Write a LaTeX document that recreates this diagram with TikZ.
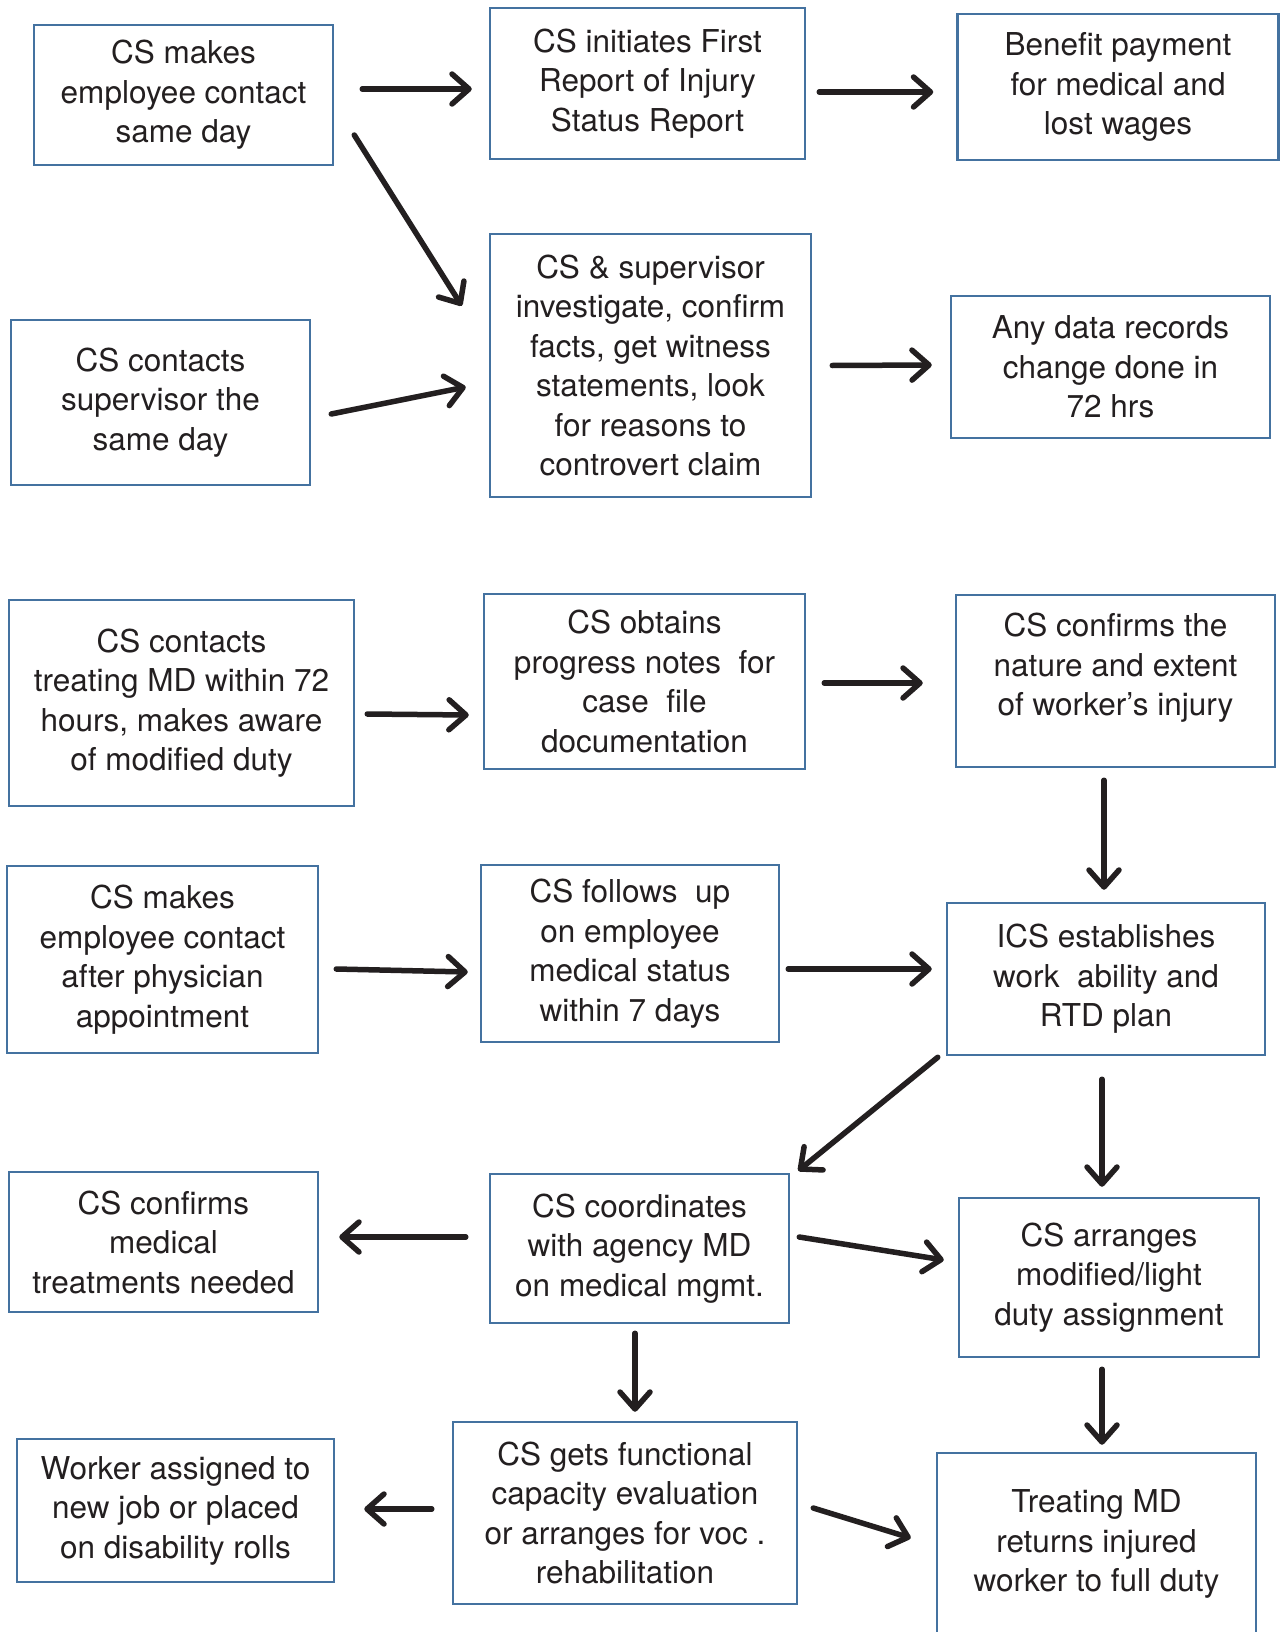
\documentclass[tikz,border=0pt]{standalone}
\usepackage{fontspec}
\setmainfont{TeX Gyre Heros}
\usetikzlibrary{arrows.meta,calc}
\definecolor{boxblue}{RGB}{68,114,160}
\definecolor{ink}{RGB}{35,31,32}
\begin{document}
\begin{tikzpicture}[x=1pt,y=-1pt,
  box/.style={draw=boxblue, line width=2.5pt, align=center, text=ink, inner sep=0pt,
    font=\fontsize{31.5}{39.5}\selectfont},
  arr/.style={draw=ink, line width=5.5pt, line cap=round,
    -{Straight Barb[length=17pt,width=30pt,line cap=round,line join=round]}}]
  \clip (0,0) rectangle (1281,1632);
  \fill[white] (0,0) rectangle (1281,1632);
  % first block
  \node[box, minimum width=299, minimum height=140] (a1) at (183.5,95) {CS makes\\employee contact\\same day};
  \node[box, minimum width=315, minimum height=151] (a2) at (647.5,83.5) {CS initiates First\\Report of Injury\\Status Report};
  \node[box, minimum width=321, minimum height=146] (a3) at (1118,87) {Benefit payment\\for medical and\\lost wages};
  \node[box, minimum width=299, minimum height=165] (b1) at (160.5,402.5) {CS contacts\\supervisor the\\same day};
  \node[box, minimum width=321, minimum height=263] (b2) at (650.5,365.5) {CS \& supervisor\\investigate, confirm\\facts, get witness\\statements, look\\for reasons to\\controvert claim};
  \node[box, minimum width=319, minimum height=142] (b3) at (1110.5,367) {Any data records\\change done in\\72 hrs};
  \draw[arr] ($(a1.east)+(28,-6)$) -- ($(a2.west)+(-17,5.5)$);
  \draw[arr] ($(a2.east)+(13,8.5)$) -- ($(a3.west)+(-23,5)$);
  \draw[arr] ($(a1.east)+(20,40)$) -- ($(b2.north west)+(-27,73)$);
  \draw[arr] ($(b1.east)+(20,11.5)$) -- ($(b2.west)+(-23,21.5)$);
  \draw[arr] ($(b2.east)+(20,0)$) -- ($(b3.west)+(-18,-2)$);
  % second block
  \node[box, minimum width=345, minimum height=206] (c1) at (181.5,703) {CS contacts\\treating MD within 72\\hours, makes aware\\of modified duty};
  \node[box, minimum width=321, minimum height=175] (c2) at (644.5,681.5) {CS obtains\\progress notes\ \ for\\case\ \ file\\documentation};
  \node[box, minimum width=319, minimum height=172] (c3) at (1115.5,681) {CS confirms the\\nature and extent\\of worker’s injury\\[-6pt]\mbox{}};
  \node[box, minimum width=311, minimum height=187] (d1) at (162.5,959.5) {CS makes\\employee contact\\after physician\\appointment};
  \node[box, minimum width=298, minimum height=177] (d2) at (630,953.5) {CS follows\ \ up\\on employee\\medical status\\within 7 days};
  \node[box, minimum width=318, minimum height=152] (d3) at (1106,979) {ICS establishes\\work\ \ ability and\\RTD plan};
  \node[box, minimum width=309, minimum height=140] (e1) at (163.5,1242) {CS confirms\\medical\\treatments needed};
  \node[box, minimum width=299, minimum height=149] (e2) at (639.5,1248.5) {CS coordinates\\with agency MD\\on medical mgmt.};
  \node[box, minimum width=300, minimum height=159] (e3) at (1109,1277.5) {CS arranges\\modified/light\\duty assignment};
  \node[box, minimum width=317, minimum height=143] (f1) at (175.5,1510.5) {Worker assigned to\\new job or placed\\on disability rolls};
  \node[box, minimum width=344, minimum height=182] (f2) at (625,1513) {CS gets functional\\capacity evaluation\\or arranges for voc .\\rehabilitation};
  \node[box, minimum width=319, minimum height=182] (f3) at (1096.5,1544) {Treating MD\\returns injured\\worker to full duty};
  \draw[arr] ($(c1.east)+(12,11)$) -- ($(c2.west)+(-14,33.5)$);
  \draw[arr] ($(c2.east)+(18,1.5)$) -- ($(c3.west)+(-32,2)$);
  \draw[arr] ($(c3.south)+(-11.5,12)$) -- ($(d3.north)+(-2,-12)$);
  \draw[arr] ($(d1.east)+(17,9.5)$) -- ($(d2.west)+(-12,18.5)$);
  \draw[arr] ($(d2.east)+(8,15.5)$) -- ($(d3.west)+(-14,-10)$);
  \draw[arr] ($(d3.south west)+(-8,1)$) -- ($(e2.north east)+(8,-2)$);
  \draw[arr] ($(d3.south)+(-4,23)$) -- ($(e3.north)+(-7,-10)$);
  \draw[arr] ($(e2.west)+(-23,-11.5)$) -- ($(e1.east)+(20,-5)$);
  \draw[arr] ($(e2.east)+(9,-11.5)$) -- ($(e3.west)+(-14,-17.5)$);
  \draw[arr] ($(e2.south)+(-4.5,9)$) -- ($(f2.north)+(10,-9)$);
  \draw[arr] ($(e3.south)+(-7,11)$) -- ($(f3.north)+(5.5,-7)$);
  \draw[arr] ($(f2.west)+(-20,-4)$) -- ($(f1.east)+(29,-1.5)$);
  \draw[arr] ($(f2.east)+(15,-5)$) -- ($(f3.west)+(-25,-6)$);
\end{tikzpicture}
\end{document}
